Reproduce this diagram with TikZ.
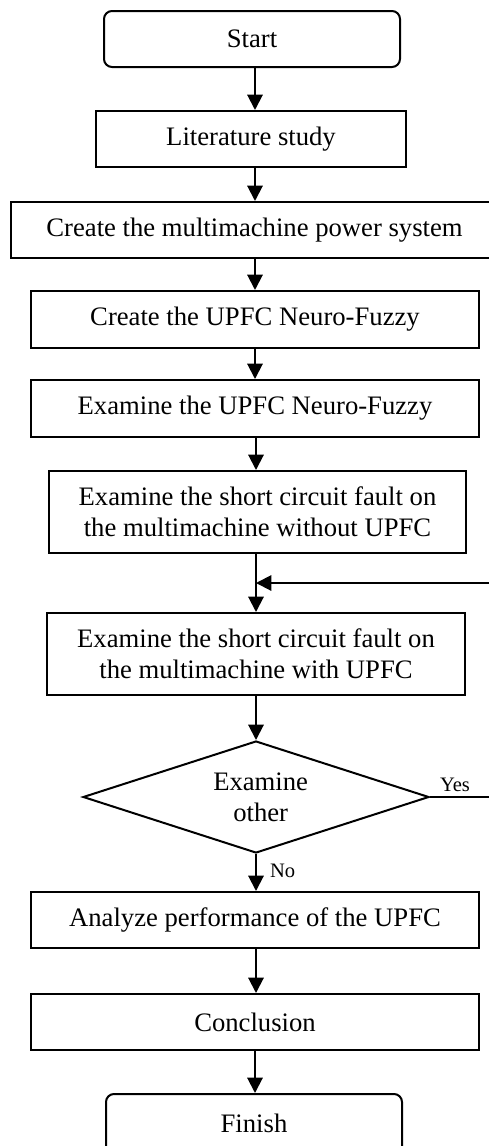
\documentclass[tikz,border=0pt]{standalone}
\usepackage{fontspec}
\setmainfont{Liberation Serif}
\usetikzlibrary{shapes.geometric,arrows.meta}

\tikzset{every picture/.style={line width=1.5pt}}
\tikzset{
	procbox/.style={draw, rectangle, inner sep=0pt, align=center, minimum height=42pt},
	termbox/.style={procbox, rounded corners=6pt},
	decbox/.style={draw, diamond, inner sep=0pt, align=center, aspect=3.09, minimum width=259.5pt, minimum height=84pt},
	flowarr/.style={-{Triangle[width=11.5pt,length=11.5pt]}},
	smalllbl/.style={font=\fontsize{15.4}{18}\selectfont, inner sep=0pt}
}

\begin{document}
\begin{tikzpicture}[x=0.75pt,y=0.75pt,yscale=-1,xscale=1,font=\fontsize{20}{23.25}\selectfont]
	\useasboundingbox (0,0) rectangle (489,1146);
	%Spine and loop coordinates
	\coordinate (spine) at (255,0);
	\coordinate (rim) at (498,0);
	\coordinate (join) at (256,583);

	%Shape: Terminal [id:start]
	\node[termbox, minimum width=222pt] (start) at (252,39) {Start};
	%Shape: Rectangle [id:lit]
	\node[procbox, minimum width=232.5pt] (lit) at (251,139) {Literature study};
	%Shape: Rectangle [id:sys]
	\node[procbox, minimum width=365.25pt] (sys) at (254.5,230) {Create the multimachine power system};
	%Shape: Rectangle [id:mkupfc]
	\node[procbox, minimum width=336pt, minimum height=42.75pt] (mkupfc) at (255,319.5) {Create the UPFC Neuro-Fuzzy};
	%Shape: Rectangle [id:exupfc]
	\node[procbox, minimum width=336pt, minimum height=42.75pt] (exupfc) at (255,408.5) {Examine the UPFC Neuro-Fuzzy};
	%Shape: Rectangle [id:nofact]
	\node[procbox, minimum width=312.75pt, minimum height=61.5pt] (nofact) at (257.5,512) {Examine the short circuit fault on\\the multimachine without UPFC};
	%Shape: Rectangle [id:withfact]
	\node[procbox, minimum width=313.5pt, minimum height=61.5pt] (withfact) at (256,654) {Examine the short circuit fault on\\the multimachine with UPFC};
	%Shape: Diamond [id:other]
	\node[decbox] (other) at (256,797) {\hspace*{7pt}Examine\\\hspace*{7pt}other};
	%Shape: Rectangle [id:perf]
	\node[procbox, minimum width=336pt] (perf) at (255,920) {Analyze performance of the UPFC};
	%Shape: Rectangle [id:concl]
	\node[procbox, minimum width=336pt] (concl) at (255,1022) {Conclusion};
	%Shape: Terminal [id:finish]
	\node[termbox, minimum width=222pt, minimum height=48pt] (finish) at (254,1126) {\raisebox{4pt}{Finish}};

	%Straight Lines
	\draw[flowarr] (start.south -| spine) -- (lit.north -| spine);
	\draw[flowarr] (lit.south -| spine) -- (sys.north -| spine);
	\draw[flowarr] (sys.south -| spine) -- (mkupfc.north -| spine);
	\draw[flowarr] (mkupfc.south -| spine) -- (exupfc.north -| spine);
	\draw[flowarr] (exupfc.south -| join) -- (nofact.north -| join);
	\draw[flowarr] (nofact.south -| join) -- (withfact.north -| join);
	\draw[flowarr] (withfact.south -| join) -- (other.north);
	\draw[flowarr] (other.south) -- (perf.north -| other.south);
	\draw[flowarr] (perf.south -| join) -- (concl.north -| join);
	\draw[flowarr] (concl.south -| spine) -- (finish.north -| spine);
	%Loop back
	\draw[flowarr] (other.east) -- (other.east -| rim) |- (join);

	% Text Node
	\node[smalllbl, anchor=base] (yes) at (455,791) {Yes};
	% Text Node
	\node[smalllbl, anchor=base west] (no) at (269,877) {No};
\end{tikzpicture}
\end{document}
